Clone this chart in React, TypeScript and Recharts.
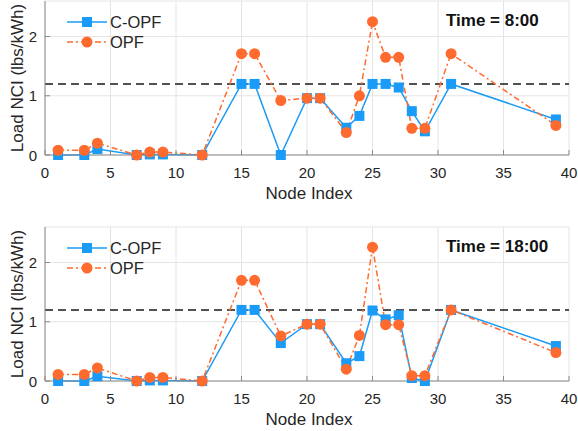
import React from 'react';
import {
  LineChart,
  Line,
  XAxis,
  YAxis,
  CartesianGrid,
  ReferenceLine,
  Legend
} from 'recharts';

// node indices on the x axis
const nodes = [1, 3, 4, 7, 8, 9, 12, 15, 16, 18, 20, 21, 23, 24, 25, 26, 27, 28, 29, 31, 39];

// Time = 8:00
const cOpf8 = [0, 0, 0.1, 0, 0.01, 0.01, 0, 1.2, 1.2, 0, 0.96, 0.96, 0.46, 0.66, 1.2, 1.2, 1.14, 0.74, 0.4, 1.2, 0.6];
const opf8 = [0.08, 0.08, 0.2, 0, 0.05, 0.05, 0, 1.71, 1.71, 0.92, 0.96, 0.96, 0.38, 1.0, 2.25, 1.65, 1.65, 0.45, 0.45, 1.71, 0.5];

// Time = 18:00
const cOpf18 = [0, 0, 0.08, 0, 0.01, 0.01, 0, 1.2, 1.2, 0.64, 0.96, 0.96, 0.3, 0.42, 1.19, 1.04, 1.11, 0.05, 0, 1.2, 0.59];
const opf18 = [0.11, 0.11, 0.22, 0, 0.06, 0.06, 0, 1.7, 1.7, 0.76, 0.96, 0.96, 0.2, 0.77, 2.26, 0.95, 0.95, 0.09, 0.09, 1.2, 0.48];

const xTicks = [0, 5, 10, 15, 20, 25, 30, 35, 40];
const yTicks = [0, 1, 2];
const nciLimit = 1.2;

const BLUE = '#1a9bf7';
const ORANGE = '#ff6b2e';
const AXIS = '#8a8a8a';
const TEXT = '#262626';
const FONT = '"Liberation Sans", Arial, sans-serif';

const Square = (props: any) => {
  const { cx, cy } = props;
  if (cx == null || cy == null) return null;
  return <rect x={cx - 5} y={cy - 5} width={10} height={10} fill={BLUE} />;
};

const Dot = (props: any) => {
  const { cx, cy } = props;
  if (cx == null || cy == null) return null;
  return <circle cx={cx} cy={cy} r={5.5} fill={ORANGE} />;
};

// matlab style ticks point inwards
const BottomTick = ({ x, y, payload }: any) => (
  <g>
    <line x1={x} y1={y} x2={x} y2={y - 5} stroke={AXIS} />
    <text x={x} y={y + 22.5} textAnchor="middle" fontSize={15} fill={TEXT}>{payload.value}</text>
  </g>
);
const LeftTick = ({ x, y, payload }: any) => (
  <g>
    <line x1={x} y1={y} x2={x + 5} y2={y} stroke={AXIS} />
    <text x={x - 8} y={y + 5.5} textAnchor="end" fontSize={15} fill={TEXT}>{payload.value}</text>
  </g>
);
const TopTick = ({ x, y }: any) => <line x1={x} y1={y} x2={x} y2={y + 5} stroke={AXIS} />;
const RightTick = ({ x, y }: any) => <line x1={x} y1={y} x2={x - 5} y2={y} stroke={AXIS} />;

const YTitle = ({ viewBox }: any) => {
  const cx = viewBox.x + 12;
  const cy = viewBox.y + viewBox.height / 2;
  return (
    <text x={cx} y={cy} transform={`rotate(-90 ${cx} ${cy})`} textAnchor="middle"
      dominantBaseline="central" fontSize={17} fill={TEXT}>
      Load NCI (lbs/kWh)
    </text>
  );
};

const XTitle = ({ viewBox }: any) => (
  <text x={viewBox.x + viewBox.width / 2 + 2} y={viewBox.y + 44} textAnchor="middle" fontSize={17} fill={TEXT}>
    Node Index
  </text>
);

const LegendBox = () => (
  <svg width={130} height={48} style={{ fontFamily: FONT }}>
    <line x1={7} y1={14} x2={47} y2={14} stroke={BLUE} strokeWidth={1.5} />
    <rect x={22} y={9} width={10} height={10} fill={BLUE} />
    <text x={50} y={20} fontSize={16.5} fill={TEXT}>C-OPF</text>
    <line x1={7} y1={34} x2={47} y2={34} stroke={ORANGE} strokeWidth={1.5} strokeDasharray="6 3 2 3" />
    <circle cx={27} cy={34} r={5.5} fill={ORANGE} />
    <text x={50} y={40} fontSize={16.5} fill={TEXT}>OPF</text>
  </svg>
);

interface PanelProps {
  top: number;
  height: number;
  cOpf: number[];
  opf: number[];
  title: string;
}

const Panel: React.FC<PanelProps> = ({ top, height, cOpf, opf, title }) => {
  const data = nodes.map((n, i) => ({ node: n, cOpf: cOpf[i], opf: opf[i] }));
  return (
    <div style={{ position: 'absolute', left: 0, top, width: 578, height }}>
      <LineChart width={578} height={height} data={data} margin={{ top: 1, right: 9, left: 5, bottom: 0 }}>
        <CartesianGrid stroke="#e4e4e4" />
        <XAxis dataKey="node" type="number" domain={[0, 40]} ticks={xTicks} interval={0}
          height={height - 155} tickSize={0} tickMargin={0} stroke={AXIS} tick={<BottomTick />}
          label={{ content: (p: any) => <XTitle {...p} /> }} />
        <XAxis xAxisId="top" orientation="top" type="number" domain={[0, 40]} ticks={xTicks} interval={0}
          height={0} tickSize={0} tickMargin={0} stroke={AXIS} tick={<TopTick />} />
        <YAxis type="number" domain={[0, 2.6]} ticks={yTicks} interval={0} width={40}
          tickSize={0} tickMargin={0} stroke={AXIS} tick={<LeftTick />}
          label={{ content: (p: any) => <YTitle {...p} /> }} />
        <YAxis yAxisId="right" orientation="right" type="number" domain={[0, 2.6]} ticks={yTicks} interval={0}
          width={0} tickSize={0} tickMargin={0} stroke={AXIS} tick={<RightTick />} />
        <ReferenceLine y={nciLimit} stroke="#1a1a1a" strokeWidth={1.5} strokeDasharray="8 5" />
        <Line dataKey="cOpf" name="C-OPF" stroke={BLUE} strokeWidth={1.5} dot={<Square />}
          activeDot={false} isAnimationActive={false} />
        <Line dataKey="opf" name="OPF" stroke={ORANGE} strokeWidth={1.5} strokeDasharray="6 3 2 3"
          dot={<Dot />} activeDot={false} isAnimationActive={false} />
        <Legend layout="vertical" align="center" verticalAlign="middle"
          wrapperStyle={{ left: 60, top: 8, width: 130, height: 48 }} content={() => <LegendBox />} />
      </LineChart>
      <div style={{ position: 'absolute', left: 446, top: 10, fontSize: 17, lineHeight: '22px',
        fontWeight: 'bold', color: '#111', fontFamily: FONT, whiteSpace: 'nowrap' }}>
        {title}
      </div>
    </div>
  );
};

export default function App() {
  return (
    <div style={{ position: 'absolute', left: 0, top: 0, width: 578, height: 431, background: '#fff', fontFamily: FONT }}>
      <Panel top={0} height={215} cOpf={cOpf8} opf={opf8} title="Time = 8:00" />
      <Panel top={226} height={205} cOpf={cOpf18} opf={opf18} title="Time = 18:00" />
    </div>
  );
}
